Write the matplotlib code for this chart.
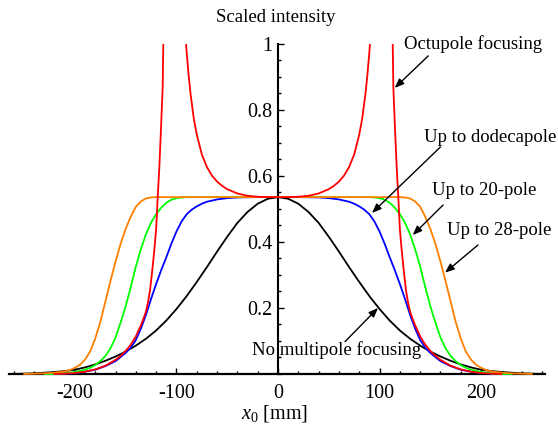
import numpy as np
import matplotlib
matplotlib.use('Agg')
import matplotlib.pyplot as plt
from matplotlib.ticker import MultipleLocator, FixedLocator

plt.rcParams['font.family'] = ['Liberation Serif', 'DejaVu Serif']
plt.rcParams['mathtext.fontset'] = 'custom'
plt.rcParams['mathtext.rm'] = 'Liberation Serif'
plt.rcParams['mathtext.it'] = 'Liberation Serif:italic'
plt.rcParams['axes.unicode_minus'] = False

nan = np.nan

# no multipole focusing (black)
black_x = [-260, -250, -240, -230, -220, -210, -200, -190, -180, -170, -160, -150, -140,
           -130, -120, -110, -100, -90, -80, -70, -60, -50, -40, -30, -20, -10, 0,
           10, 20, 30, 40, 50, 60, 70, 80, 90, 100, 110, 120, 130,
           140, 150, 160, 170, 180, 190, 200, 210, 220, 230, 240, 250, 260]
black_y = [0.0, 0.001, 0.002, 0.004, 0.006, 0.009, 0.013, 0.020, 0.029, 0.040, 0.053, 0.068, 0.086,
           0.107, 0.132, 0.162, 0.197, 0.236, 0.279, 0.324, 0.371, 0.416, 0.458, 0.491, 0.516, 0.531, 0.536,
           0.531, 0.516, 0.491, 0.458, 0.416, 0.371, 0.324, 0.279, 0.236, 0.197, 0.162, 0.132, 0.107,
           0.086, 0.068, 0.053, 0.040, 0.029, 0.020, 0.013, 0.009, 0.006, 0.004, 0.002, 0.001, 0.0]

# up to dodecapole (blue)
blue_x = [-230, -220, -210, -200, -190, -180, -170, -160, -150, -145, -140, -135, -130, -125,
          -120, -115, -110, -105, -100, -95, -90, -85, -80, -75, -70, -60, -50, -40, -20, 0,
          20, 40, 50, 60, 70, 75, 80, 85, 90, 95, 100, 105, 110, 115, 120,
          125, 130, 135, 140, 145, 150, 160, 170, 180, 190, 200, 210, 220, 230]
blue_y = [0.0, 0.0, 0.001, 0.003, 0.007, 0.013, 0.024, 0.039, 0.064, 0.080, 0.103, 0.138, 0.180, 0.228,
          0.273, 0.315, 0.354, 0.395, 0.432, 0.462, 0.484, 0.498, 0.508, 0.516, 0.522, 0.529, 0.533, 0.535, 0.536, 0.536,
          0.536, 0.535, 0.533, 0.529, 0.522, 0.516, 0.508, 0.498, 0.484, 0.462, 0.432, 0.395, 0.354, 0.315, 0.273,
          0.228, 0.180, 0.138, 0.103, 0.080, 0.064, 0.039, 0.024, 0.013, 0.007, 0.003, 0.001, 0.0, 0.0]

# up to 20-pole (green)
green_x = [-230, -220, -210, -200, -190, -185, -180, -175, -170, -165, -160, -155, -150, -145,
           -140, -135, -130, -125, -120, -115, -110, -105, -100, -95, -90, -80, -40, 0,
           40, 80, 90, 95, 100, 105, 110, 115, 120, 125, 130, 135, 140, 145,
           150, 155, 160, 165, 170, 175, 180, 185, 190, 200, 210, 220, 230]
green_y = [0.0, 0.0, 0.002, 0.006, 0.013, 0.019, 0.027, 0.039, 0.055, 0.078, 0.111, 0.156, 0.206, 0.264,
           0.326, 0.379, 0.424, 0.459, 0.485, 0.504, 0.519, 0.528, 0.533, 0.535, 0.536, 0.536, 0.536, 0.536,
           0.536, 0.536, 0.536, 0.535, 0.533, 0.528, 0.519, 0.504, 0.485, 0.459, 0.424, 0.379, 0.326, 0.264,
           0.206, 0.156, 0.111, 0.078, 0.055, 0.039, 0.027, 0.019, 0.013, 0.006, 0.002, 0.0, 0.0]

# up to 28-pole (orange)
orange_x = [-250, -240, -230, -220, -210, -205, -200, -195, -190, -185, -180, -175, -170, -165,
            -160, -155, -150, -145, -140, -135, -130, -125, -120, -60, 0,
            60, 120, 125, 130, 135, 140, 145, 150, 155, 160, 165, 170, 175,
            180, 185, 190, 195, 200, 205, 210, 220, 230, 240, 250]
orange_y = [0.0, 0.001, 0.002, 0.004, 0.008, 0.012, 0.019, 0.028, 0.044, 0.068, 0.108, 0.158, 0.220, 0.282,
            0.341, 0.395, 0.440, 0.477, 0.507, 0.523, 0.532, 0.535, 0.536, 0.536, 0.536,
            0.536, 0.536, 0.535, 0.532, 0.523, 0.507, 0.477, 0.440, 0.395, 0.341, 0.282, 0.220, 0.158,
            0.108, 0.068, 0.044, 0.028, 0.019, 0.012, 0.008, 0.004, 0.002, 0.001, 0.0]

# octupole focusing (red), nan separates the branches around the poles
red_x = [-220, -210, -200, -190, -180, -170, -160, -155, -150, -145, -140, -135, -132,
         -130, -128, -126, -124, -122, -120, -118.5, -117, -115.3, -113.6, -113, -112.5, nan,
         -92, -91, -90, -88, -86, -83, -80, -75, -70, -65, -60, -55, -50, -40, -30, -20, -10, 0,
         10, 20, 30, 40, 50, 55, 60, 65, 70, 75, 80, 83, 86, 88, 90, 91, 92, nan,
         112.5, 113, 113.6, 115.3, 117, 118.5, 120, 122, 124, 126, 128, 130, 132,
         135, 140, 145, 150, 155, 160, 170, 180, 190, 200, 210, 220]
red_y = [0.0, 0.001, 0.003, 0.007, 0.014, 0.025, 0.043, 0.055, 0.070, 0.089, 0.114, 0.148, 0.172,
         0.19, 0.218, 0.255, 0.31, 0.37, 0.44, 0.537, 0.62, 0.74, 0.87, 1.0, 1.1, nan,
         1.1, 1.02, 0.975, 0.905, 0.845, 0.775, 0.725, 0.665, 0.627, 0.601, 0.583, 0.570, 0.560, 0.547, 0.540, 0.537, 0.536, 0.536,
         0.536, 0.537, 0.540, 0.547, 0.560, 0.570, 0.583, 0.601, 0.627, 0.665, 0.725, 0.775, 0.845, 0.905, 0.975, 1.02, 1.1, nan,
         1.1, 1.0, 0.87, 0.74, 0.62, 0.537, 0.44, 0.37, 0.31, 0.255, 0.218, 0.19, 0.172,
         0.148, 0.114, 0.089, 0.070, 0.055, 0.043, 0.025, 0.014, 0.007, 0.003, 0.001, 0.0]

xticks = [-200, -100, 0, 100, 200]
xticklabels = ['-200', '-100', '0', '100', '200']
yticks = [0.2, 0.4, 0.6, 0.8, 1.0]
yticklabels = ['0.2', '0.4', '0.6', '0.8', '1']

fig = plt.figure(figsize=(5.58, 4.28), dpi=100)
ax = fig.add_axes([0.0161, 0.1185, 0.9606, 0.7787])

lw = 1.3
ax.plot(black_x, black_y, color='black', lw=lw, zorder=3)
ax.plot(blue_x, blue_y, color=(0, 0, 1), lw=lw, zorder=3)
ax.plot(green_x, green_y, color=(0, 1, 0), lw=lw, zorder=3)
ax.plot(orange_x, orange_y, color=(1, 0.5, 0), lw=lw, zorder=3)
ax.plot(red_x, red_y, color=(1, 0, 0), lw=lw, zorder=3)

ax.set_xlim(-265, 263)
ax.set_ylim(-0.01, 1.0)

for s in ['top', 'right']:
    ax.spines[s].set_visible(False)
ax.spines['left'].set_position(('data', 0))
ax.spines['bottom'].set_position(('data', 0))
ax.spines['left'].set_bounds(0, 1)
ax.spines['left'].set_linewidth(1.5)
ax.spines['bottom'].set_linewidth(1.6)

ax.xaxis.set_major_locator(FixedLocator(xticks))
ax.set_xticklabels(xticklabels)
ax.xaxis.set_minor_locator(MultipleLocator(20))
ax.yaxis.set_major_locator(FixedLocator(yticks))
ax.set_yticklabels(yticklabels)
ax.yaxis.set_minor_locator(MultipleLocator(0.05))
ax.tick_params(which='both', direction='in', width=1, labelsize=14.5)
ax.tick_params(which='major', length=4)
ax.tick_params(which='minor', length=2.2)
ax.tick_params(axis='x', pad=7)
ax.tick_params(axis='y', pad=4)

fig.text(276 / 558, 1 - 18 / 428, 'Scaled intensity', ha='center', va='center', fontsize=13.5)
fig.text(275 / 558, 1 - 419 / 428, r'$x_0$ [mm]', ha='center', va='baseline', fontsize=14.5)

arrow = dict(arrowstyle='-|>,head_length=0.55,head_width=0.22', color='black', lw=1.0,
             shrinkA=0, shrinkB=0)

ax.text(124, 1.0, 'Octupole focusing', ha='left', va='center', fontsize=13.5)
ax.annotate('', xy=(115, 0.867), xytext=(148, 0.964), arrowprops=arrow)

ax.text(143.8, 0.718, 'Up to dodecapole', ha='left', va='center', fontsize=13.5)
ax.annotate('', xy=(92.6, 0.488), xytext=(160, 0.688), arrowprops=arrow)

ax.text(151.7, 0.555, 'Up to 20-pole', ha='left', va='center', fontsize=13.5)
ax.annotate('', xy=(132.7, 0.421), xytext=(162.6, 0.512), arrowprops=arrow)

ax.text(166.5, 0.436, 'Up to 28-pole', ha='left', va='center', fontsize=13.5)
ax.annotate('', xy=(164.5, 0.307), xytext=(197, 0.391), arrowprops=arrow)

ax.text(-25.6, 0.073, 'No multipole focusing', ha='left', va='center', fontsize=13.5)
ax.annotate('', xy=(98.5, 0.2), xytext=(66, 0.098), arrowprops=arrow)

fig.savefig('out.png', dpi=100)
